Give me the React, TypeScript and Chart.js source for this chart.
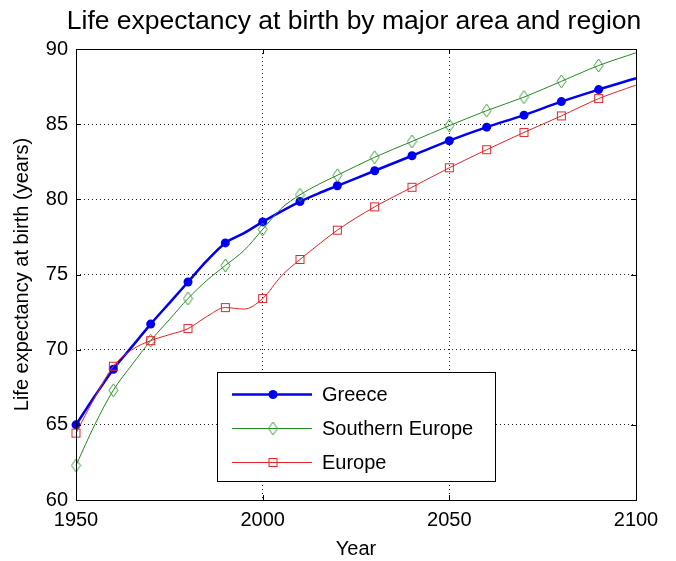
import React, { useEffect, useRef } from "react";
import { Chart, registerables } from "chart.js";

Chart.register(...registerables);

const years = [1950, 1955, 1960, 1965, 1970, 1975, 1980, 1985, 1990, 1995, 2000, 2005, 2010, 2015, 2020, 2030, 2040, 2050, 2060, 2070, 2080, 2090, 2100];
const greece = [65.0, 66.9, 68.7, 70.2, 71.7, 73.1, 74.5, 75.9, 77.1, 77.75, 78.5, 79.2, 79.85, 80.4, 80.9, 81.9, 82.9, 83.9, 84.8, 85.6, 86.5, 87.3, 88.05];
const southernEurope = [62.3, 65.0, 67.3, 69.0, 70.6, 72.0, 73.4, 74.6, 75.6, 76.6, 78.0, 79.4, 80.3, 81.0, 81.6, 82.8, 83.85, 84.9, 85.9, 86.8, 87.85, 88.9, 89.75];
const europe = [64.45, 66.8, 68.9, 70.0, 70.6, 71.0, 71.4, 72.2, 72.8, 72.7, 73.4, 74.9, 76.0, 77.0, 77.95, 79.5, 80.8, 82.1, 83.3, 84.45, 85.55, 86.7, 87.6];
const seriesNames = ["Greece", "Southern Europe", "Europe"];
const xTicks = [1950, 2000, 2050, 2100];
const yTicks = [60, 65, 70, 75, 80, 85, 90];

const FONT = "'Liberation Sans', Arial, Helvetica, sans-serif";
const BLUE = "#0000f0";
const GREEN = "#218a21";
const RED = "#e3242b";

function makeDiamond(): HTMLCanvasElement {
  const c = document.createElement("canvas");
  c.width = 11; c.height = 15;
  const g = c.getContext("2d")!;
  g.strokeStyle = "#3c9a3c"; g.lineWidth = 1;
  g.beginPath();
  g.moveTo(5.5, 1); g.lineTo(10, 7.5); g.lineTo(5.5, 14); g.lineTo(1, 7.5); g.closePath();
  g.stroke();
  return c;
}
function makeSquare(): HTMLCanvasElement {
  const c = document.createElement("canvas");
  c.width = 11; c.height = 11;
  const g = c.getContext("2d")!;
  g.strokeStyle = RED; g.lineWidth = 1;
  g.strokeRect(1.5, 1.5, 8, 8);
  return c;
}

export default function App() {
  const ref = useRef<HTMLCanvasElement | null>(null);
  useEffect(() => {
    document.body.style.margin = "0";
    const canvas = ref.current!;
    const diamond = makeDiamond();
    const square = makeSquare();
    const markerRadius = (r: number) => (ctx: any) => {
      const yr = years[ctx.dataIndex];
      return yr % 10 === 0 && yr < 2100 ? r : 0;
    };

    const framePlugin = {
      id: "frame",
      afterDatasetsDraw(chart: any) {
        const { ctx, chartArea: a } = chart;
        ctx.save();
        ctx.strokeStyle = "#000";
        ctx.lineWidth = 1;
        ctx.strokeRect(Math.round(a.left) + 0.5, Math.round(a.top) + 0.5, Math.round(a.right - a.left), Math.round(a.bottom - a.top));
        const xs = chart.scales.x, ys = chart.scales.y;
        const L = 5;
        ctx.beginPath();
        xTicks.forEach((t) => {
          const px = Math.round(xs.getPixelForValue(t)) + 0.5;
          ctx.moveTo(px, a.bottom); ctx.lineTo(px, a.bottom - L);
          ctx.moveTo(px, a.top); ctx.lineTo(px, a.top + L);
        });
        yTicks.forEach((t) => {
          const py = Math.round(ys.getPixelForValue(t)) + 0.5;
          ctx.moveTo(a.left, py); ctx.lineTo(a.left + L, py);
          ctx.moveTo(a.right, py); ctx.lineTo(a.right - L, py);
        });
        ctx.stroke();
        ctx.restore();
      },
      afterDraw(chart: any) {
        const { ctx, chartArea: a } = chart;
        ctx.save();
        // title
        ctx.fillStyle = "#000";
        ctx.font = `26.5px ${FONT}`;
        ctx.textAlign = "center";
        ctx.textBaseline = "middle";
        ctx.fillText("Life expectancy at birth by major area and region", 354, 22);
        // legend
        const bx = 217.5, by = 372.5, bw = 278, bh = 109;
        ctx.fillStyle = "#fff";
        ctx.fillRect(bx, by, bw, bh);
        ctx.strokeStyle = "#000";
        ctx.lineWidth = 1;
        ctx.strokeRect(bx, by, bw, bh);
        const rows = [394, 428, 462];
        const colors = [BLUE, GREEN, RED];
        const widths = [2.5, 1, 1];
        rows.forEach((ry, i) => {
          ctx.strokeStyle = colors[i];
          ctx.lineWidth = widths[i];
          ctx.beginPath();
          ctx.moveTo(232, ry + 0.5); ctx.lineTo(312, ry + 0.5);
          ctx.stroke();
          if (i === 0) {
            ctx.fillStyle = BLUE;
            ctx.beginPath(); ctx.arc(273, ry + 0.5, 4.5, 0, Math.PI * 2); ctx.fill();
          } else {
            const img = i === 1 ? diamond : square;
            ctx.drawImage(img, 273 - img.width / 2, ry + 0.5 - img.height / 2);
          }
          ctx.fillStyle = "#000";
          ctx.font = `20px ${FONT}`;
          ctx.textAlign = "left";
          ctx.textBaseline = "middle";
          ctx.fillText(seriesNames[i], 322, ry + 1);
        });
        ctx.restore();
      },
    };

    const chart = new Chart(canvas, {
      type: "line",
      data: {
        datasets: [
          {
            label: seriesNames[0],
            data: years.map((x, i) => ({ x, y: greece[i] })),
            borderColor: BLUE,
            backgroundColor: BLUE,
            borderWidth: 2.5,
            pointStyle: "circle",
            pointRadius: markerRadius(4.5),
            pointBorderWidth: 0,
            cubicInterpolationMode: "monotone",
            clip: false,
            order: 3,
          },
          {
            label: seriesNames[1],
            data: years.map((x, i) => ({ x, y: southernEurope[i] })),
            borderColor: GREEN,
            backgroundColor: "transparent",
            borderWidth: 1,
            pointStyle: diamond,
            pointRadius: markerRadius(5),
            cubicInterpolationMode: "monotone",
            clip: false,
            order: 2,
          },
          {
            label: seriesNames[2],
            data: years.map((x, i) => ({ x, y: europe[i] })),
            borderColor: RED,
            backgroundColor: "transparent",
            borderWidth: 1,
            pointStyle: square,
            pointRadius: markerRadius(5),
            cubicInterpolationMode: "monotone",
            clip: false,
            order: 1,
          },
        ],
      },
      options: {
        animation: false,
        responsive: false,
        events: [],
        layout: { padding: { top: 49, right: 40, left: 0, bottom: 0 } },
        plugins: { legend: { display: false }, title: { display: false }, tooltip: { enabled: false } },
        scales: {
          x: {
            type: "linear",
            min: 1950,
            max: 2100,
            afterFit: (s: any) => { s.height = 61; },
            afterBuildTicks: (s: any) => { s.ticks = xTicks.map((v) => ({ value: v })); },
            ticks: { color: "#000", font: { family: FONT, size: 20 }, padding: 8, maxRotation: 0, callback: (v: any) => String(v) },
            grid: { color: "#222", lineWidth: 1, drawTicks: false },
            border: { display: false, dash: [1, 3] },
            title: { display: true, text: "Year", color: "#000", font: { family: FONT, size: 20 }, padding: { top: 0, bottom: 0 } },
          },
          y: {
            type: "linear",
            min: 60,
            max: 90,
            afterFit: (s: any) => { s.width = 76; },
            afterBuildTicks: (s: any) => { s.ticks = yTicks.map((v) => ({ value: v })); },
            ticks: { color: "#000", font: { family: FONT, size: 20 }, padding: 8, callback: (v: any) => String(v) },
            grid: { color: "#222", lineWidth: 1, drawTicks: false },
            border: { display: false, dash: [1, 3] },
            title: { display: true, text: "Life expectancy at birth (years)", color: "#000", font: { family: FONT, size: 20 }, padding: { top: 10, bottom: 0 } },
          },
        },
      },
      plugins: [framePlugin],
    } as any);
    return () => chart.destroy();
  }, []);
  return (
    <div style={{ width: 676, height: 561 }}>
      <canvas ref={ref} width={676} height={561} />
    </div>
  );
}
